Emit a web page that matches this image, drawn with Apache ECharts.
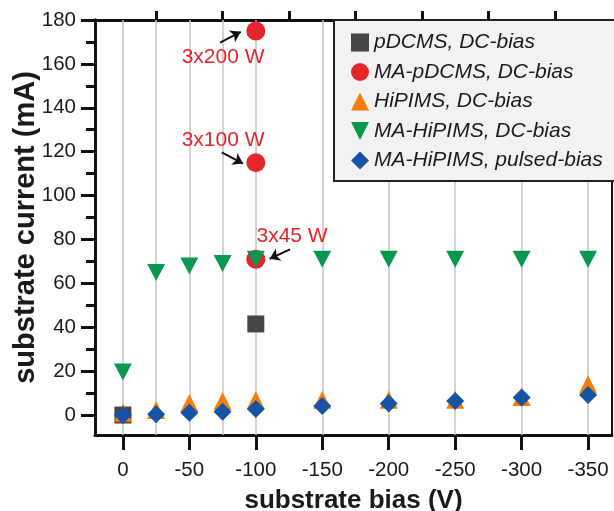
<!DOCTYPE html>
<html>
<head>
<meta charset="utf-8">
<script src="https://cdn.jsdelivr.net/npm/echarts@6/dist/echarts.min.js"></script>
<style>html,body{margin:0;padding:0;background:#fff;}#c{width:614px;height:511px;}</style>
</head>
<body>
<div id="c"></div>
<script>
// ---- data ----
const biasAll = [0, -25, -50, -75, -100, -150, -200, -250, -300, -350];
const pdcmsX = [0, -100];
const pdcmsY = [0, 41.5];
const mapdcmsX = [-100, -100, -100];
const mapdcmsY = [175, 115, 71];
const hipimsY = [1, 2.3, 5.5, 6.4, 6.8, 7, 7, 7, 8.2, 14];
const mahipimsDcY = [19.6, 64.9, 67.9, 69.1, 71, 71, 71, 71, 71, 71];
const mahipimsPulsedY = [0, 0.3, 1, 1.5, 2.7, 4.1, 5.3, 6.4, 8, 9.1];
const seriesNames = ['pDCMS, DC-bias', 'MA-pDCMS, DC-bias', 'HiPIMS, DC-bias', 'MA-HiPIMS, DC-bias', 'MA-HiPIMS, pulsed-bias'];
const xMajorTicks = [0, -50, -100, -150, -200, -250, -300, -350];
const xMinorTicks = [-25, -75, -125, -175, -225, -275, -325];
const yMajorTicks = [0, 20, 40, 60, 80, 100, 120, 140, 160, 180];
const yMinorTicks = [10, 30, 50, 70, 90, 110, 130, 150, 170];
const annotTexts = ['3x200 W', '3x100 W', '3x45 W'];
// annotation placement (data coordinates)
const annotTextPos = [[-75.4, 163], [-75.4, 125.3], [-127.3, 81.3]];
const annotArrows = [
  [[-73.1, 169.7], [-88.7, 174.6]],
  [[-74.4, 119.7], [-90.4, 114.6]],
  [[-125.8, 75.5], [-110.4, 71.2]]
];

const zip = (xs, ys) => xs.map((x, i) => [x, ys[i]]);
const FONT = 'Liberation Sans, Arial, Helvetica, sans-serif';
const colors = ['#474747', '#e4262c', '#f57e0b', '#0a9850', '#1753a5'];
const downTri = 'path://M0,0 L10,0 L5,10 Z';

const chart = echarts.init(document.getElementById('c'), null, {renderer: 'canvas'});
const xCommon = {
  type: 'value', inverse: true, min: -368, max: 21,
  splitLine: {show: false},
  axisLine: {show: true, onZero: false, lineStyle: {color: '#111', width: 3}}
};
const yCommon = {
  type: 'value', min: -9.1, max: 180, position: 'left',
  splitLine: {show: false},
  axisLine: {show: true, onZero: false, lineStyle: {color: '#111', width: 3}}
};
chart.setOption({
  animation: false,
  backgroundColor: '#fff',
  grid: {left: 95, top: 20, right: 2, bottom: 76, show: true, borderColor: '#111', borderWidth: 2,
    backgroundColor: 'transparent', containLabel: false, outerBoundsMode: 'none'},
  xAxis: [
    Object.assign({}, xCommon, {
      name: 'substrate bias (V)', nameLocation: 'middle', nameGap: 53, nameMoveOverlap: false,
      nameTextStyle: {fontFamily: FONT, fontSize: 26, fontWeight: 'bold', color: '#1a1a1a'},
      axisTick: {show: true, length: 15, customValues: xMajorTicks, lineStyle: {color: '#111', width: 3}},
      axisLabel: {show: true, customValues: xMajorTicks, margin: 25, fontFamily: FONT, fontSize: 20.5, color: '#1a1a1a'}
    }),
    Object.assign({}, xCommon, {
      axisTick: {show: true, length: 9, customValues: xMinorTicks, lineStyle: {color: '#111', width: 3}},
      axisLabel: {show: false}
    })
  ],
  yAxis: [
    Object.assign({}, yCommon, {
      name: 'substrate current (mA)', nameLocation: 'middle', nameGap: 55, nameRotate: 90, nameMoveOverlap: false,
      nameTextStyle: {fontFamily: FONT, fontSize: 29, fontWeight: 'bold', color: '#1a1a1a'},
      axisTick: {show: true, length: 14, customValues: yMajorTicks, lineStyle: {color: '#111', width: 3}},
      axisLabel: {show: true, customValues: yMajorTicks, margin: 19, fontFamily: FONT, fontSize: 20.5, color: '#1a1a1a'}
    }),
    Object.assign({}, yCommon, {
      axisTick: {show: true, length: 9, customValues: yMinorTicks, lineStyle: {color: '#111', width: 3}},
      axisLabel: {show: false}
    })
  ],
  legend: {
    data: seriesNames.map((n, i) => ({name: n, icon: i === 0 ? 'rect' : i === 1 ? 'circle' : i === 2 ? 'triangle' : i === 3 ? downTri : 'diamond'})),
    orient: 'vertical', left: 334, top: 20,
    backgroundColor: '#f2f2f2', borderColor: '#222', borderWidth: 2,
    padding: [12, 20, 10, 17], itemGap: 8.5, itemWidth: 18, itemHeight: 18, itemTextGap: 10,
    textStyle: {fontFamily: FONT, fontSize: 21, fontStyle: 'italic', color: '#1a1a1a'},
    selectedMode: false
  },
  series: [
    {
      name: '_grid', type: 'scatter', data: [], silent: true,
      markLine: {
        silent: true, symbol: 'none', z: 1, animation: false,
        label: {show: false},
        lineStyle: {color: '#c4c4c4', width: 1.5, type: 'solid'},
        data: biasAll.map(v => ({xAxis: v}))
      }
    },
    {name: seriesNames[0], type: 'scatter', symbol: 'rect', symbolSize: 17, z: 2,
      itemStyle: {color: colors[0], opacity: 1}, data: zip(pdcmsX, pdcmsY)},
    {name: seriesNames[1], type: 'scatter', symbol: 'circle', symbolSize: 19, z: 2,
      itemStyle: {color: colors[1], opacity: 1}, data: zip(mapdcmsX, mapdcmsY)},
    {name: seriesNames[2], type: 'scatter', symbol: 'triangle', symbolSize: 18, z: 2,
      itemStyle: {color: colors[2], opacity: 1}, data: zip(biasAll, hipimsY)},
    {name: seriesNames[3], type: 'scatter', symbol: downTri, symbolSize: [18, 17], z: 2,
      itemStyle: {color: colors[3], opacity: 1}, data: zip(biasAll, mahipimsDcY)},
    {name: seriesNames[4], type: 'scatter', symbol: 'diamond', symbolSize: 18, z: 2,
      itemStyle: {color: colors[4], opacity: 1}, data: zip(biasAll, mahipimsPulsedY)},
    {
      name: '_annot', type: 'scatter', data: [], silent: true,
      markLine: {
        silent: true, z: 5, symbol: ['none', 'arrow'], symbolSize: 10, animation: false,
        label: {show: false},
        lineStyle: {color: '#111', width: 2, type: 'solid'},
        data: annotArrows.map(a => [{coord: a[0]}, {coord: a[1]}])
      },
      markPoint: {
        silent: true, z: 5, symbol: 'circle', symbolSize: 0, animation: false,
        label: {show: true, position: 'inside', fontFamily: FONT, fontSize: 21, color: '#e4262c', formatter: p => p.name},
        data: annotTexts.map((t, i) => ({name: t, coord: annotTextPos[i]}))
      }
    }
  ]
});
</script>
</body>
</html>
